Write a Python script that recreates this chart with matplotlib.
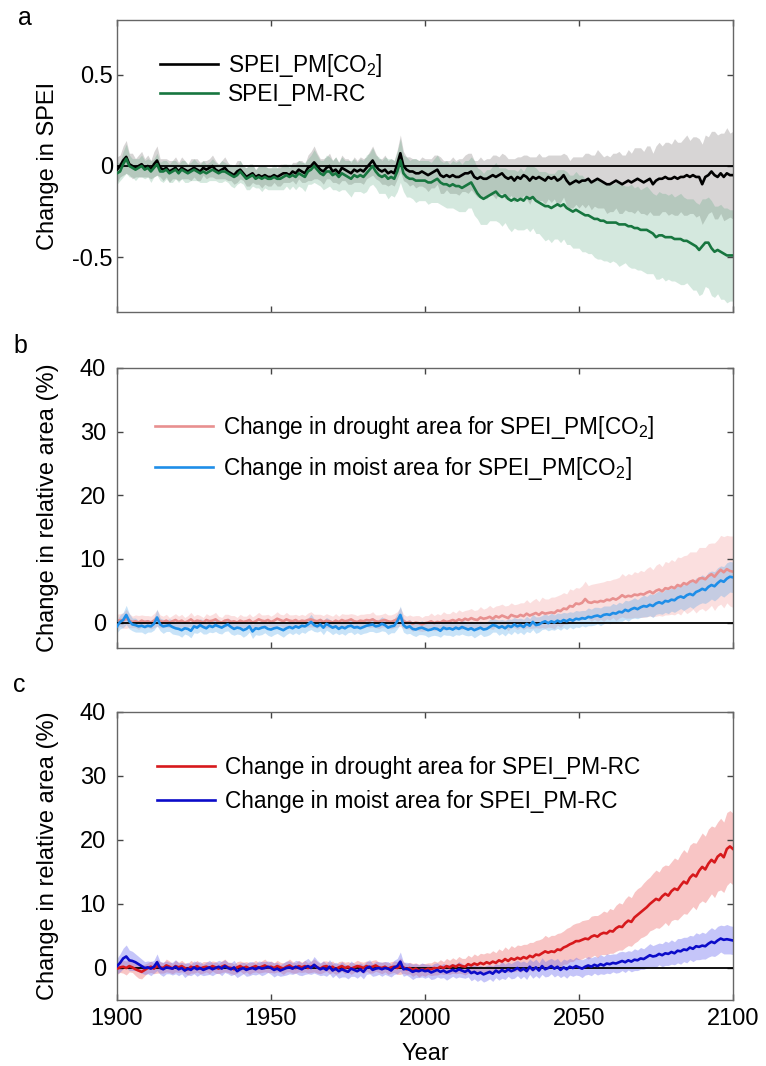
import numpy as np
import matplotlib
matplotlib.use('Agg')
import matplotlib.pyplot as plt

plt.rcParams['font.family'] = 'Liberation Sans'
plt.rcParams['mathtext.fontset'] = 'custom'
plt.rcParams['mathtext.rm'] = 'Liberation Sans'
plt.rcParams['mathtext.it'] = 'Liberation Sans:italic'
plt.rcParams['axes.unicode_minus'] = False

# anos 1900-2100
years = np.arange(1900, 2101)

# painel a: variacao no SPEI (media e meia-largura da faixa)
spei_co2 = [
    -0.02, 0.00, 0.03, 0.05, 0.01, 0.00, -0.01, 0.00, 0.01, -0.01,
    0.00, -0.02, 0.01, 0.03, -0.01, -0.02, -0.01, -0.03, -0.02, -0.01,
    -0.03, -0.01, -0.02, -0.03, -0.02, -0.01, -0.02, -0.03, -0.01, -0.02,
    -0.01, 0.00, -0.02, -0.03, -0.02, -0.01, -0.03, -0.04, -0.05, -0.03,
    -0.02, -0.04, -0.06, -0.05, -0.04, -0.06, -0.05, -0.06, -0.05, -0.06,
    -0.06, -0.05, -0.06, -0.05, -0.04, -0.04, -0.05, -0.03, -0.04, -0.02,
    -0.03, -0.04, -0.01, 0.00, 0.02, 0.00, -0.02, -0.03, -0.01, 0.00,
    -0.03, -0.02, -0.04, -0.01, -0.02, -0.03, -0.04, -0.02, -0.03, -0.02,
    -0.03, -0.01, 0.01, 0.03, 0.00, -0.02, -0.03, -0.02, -0.04, -0.03,
    -0.04, 0.01, 0.07, 0.00, -0.02, -0.03, -0.03, -0.04, -0.04, -0.03,
    -0.04, -0.05, -0.04, -0.03, -0.02, -0.05, -0.06, -0.05, -0.06, -0.05,
    -0.06, -0.06, -0.05, -0.04, -0.04, -0.03, -0.06, -0.07, -0.06, -0.07,
    -0.07, -0.06, -0.05, -0.06, -0.05, -0.04, -0.06, -0.07, -0.06, -0.08,
    -0.06, -0.07, -0.05, -0.06, -0.08, -0.06, -0.07, -0.06, -0.07, -0.08,
    -0.06, -0.07, -0.06, -0.08, -0.07, -0.05, -0.08, -0.10, -0.09, -0.08,
    -0.09, -0.08, -0.08, -0.07, -0.09, -0.08, -0.07, -0.08, -0.09, -0.10,
    -0.10, -0.09, -0.08, -0.09, -0.10, -0.09, -0.08, -0.09, -0.08, -0.07,
    -0.08, -0.09, -0.08, -0.07, -0.10, -0.08, -0.07, -0.07, -0.06, -0.07,
    -0.07, -0.06, -0.07, -0.06, -0.06, -0.05, -0.06, -0.05, -0.06, -0.06,
    -0.10, -0.06, -0.05, -0.03, -0.05, -0.06, -0.04, -0.06, -0.04, -0.05,
    -0.05]
spei_rc = [
    -0.04, -0.03, 0.01, 0.04, 0.00, -0.01, -0.02, -0.01, 0.00, -0.02,
    -0.01, -0.03, -0.01, 0.01, -0.03, -0.03, -0.02, -0.04, -0.03, -0.02,
    -0.04, -0.02, -0.03, -0.04, -0.03, -0.02, -0.03, -0.04, -0.03, -0.04,
    -0.03, -0.02, -0.03, -0.04, -0.03, -0.03, -0.04, -0.05, -0.06, -0.05,
    -0.03, -0.05, -0.07, -0.06, -0.05, -0.07, -0.06, -0.07, -0.06, -0.07,
    -0.07, -0.06, -0.07, -0.07, -0.06, -0.05, -0.06, -0.05, -0.06, -0.04,
    -0.05, -0.06, -0.03, -0.02, 0.00, -0.02, -0.04, -0.05, -0.03, -0.03,
    -0.05, -0.04, -0.06, -0.04, -0.05, -0.06, -0.07, -0.05, -0.06, -0.05,
    -0.06, -0.04, -0.02, 0.00, -0.03, -0.05, -0.06, -0.05, -0.07, -0.06,
    -0.07, -0.03, 0.03, -0.04, -0.06, -0.07, -0.07, -0.08, -0.08, -0.08,
    -0.08, -0.09, -0.09, -0.08, -0.07, -0.09, -0.10, -0.10, -0.11, -0.10,
    -0.11, -0.11, -0.12, -0.11, -0.10, -0.09, -0.12, -0.15, -0.17, -0.18,
    -0.17, -0.16, -0.15, -0.14, -0.16, -0.17, -0.16, -0.18, -0.19, -0.18,
    -0.19, -0.18, -0.19, -0.17, -0.18, -0.17, -0.19, -0.20, -0.21, -0.22,
    -0.22, -0.23, -0.22, -0.21, -0.22, -0.21, -0.23, -0.24, -0.25, -0.24,
    -0.25, -0.26, -0.27, -0.27, -0.28, -0.29, -0.29, -0.30, -0.30, -0.31,
    -0.31, -0.31, -0.31, -0.32, -0.32, -0.32, -0.33, -0.33, -0.34, -0.34,
    -0.35, -0.35, -0.35, -0.36, -0.37, -0.39, -0.38, -0.38, -0.39, -0.39,
    -0.39, -0.40, -0.40, -0.40, -0.41, -0.41, -0.42, -0.43, -0.44, -0.46,
    -0.44, -0.42, -0.42, -0.45, -0.47, -0.46, -0.47, -0.48, -0.49, -0.49,
    -0.49]
spread_co2 = [
    .07, .06, .08, .09, .06, .07, .05, .06, .07, .05,
    .06, .05, .07, .08, .05, .06, .05, .06, .05, .06,
    .05, .06, .05, .04, .06, .05, .06, .05, .04, .05,
    .05, .06, .05, .04, .05, .06, .05, .04, .05, .06,
    .05, .04, .05, .06, .05, .04, .05, .06, .05, .05,
    .05, .04, .05, .06, .05, .05, .04, .05, .06, .05,
    .06, .05, .07, .08, .09, .07, .06, .07, .06, .07,
    .06, .07, .06, .07, .06, .07, .06, .07, .06, .07,
    .07, .06, .07, .08, .07, .06, .07, .08, .07, .07,
    .07, .08, .10, .08, .07, .08, .07, .08, .07, .08,
    .08, .09, .08, .09, .08, .10, .09, .08, .09, .10,
    .09, .10, .09, .10, .11, .10, .09, .10, .11, .10,
    .11, .10, .11, .12, .10, .11, .12, .11, .10, .12,
    .11, .12, .11, .12, .13, .11, .12, .13, .12, .13,
    .12, .13, .12, .14, .13, .12, .14, .13, .14, .13,
    .14, .13, .15, .14, .15, .14, .16, .15, .14, .16,
    .15, .16, .15, .17, .16, .15, .17, .16, .18, .17,
    .18, .17, .19, .18, .17, .19, .20, .18, .19, .20,
    .19, .21, .20, .19, .21, .22, .20, .21, .22, .21,
    .22, .23, .21, .22, .24, .23, .22, .24, .25, .23,
    .24]
spread_rc = [
    .06, .05, .07, .08, .06, .05, .06, .05, .06, .05,
    .05, .06, .05, .06, .05, .06, .05, .05, .06, .05,
    .05, .05, .06, .05, .05, .06, .05, .05, .06, .05,
    .05, .06, .05, .05, .06, .05, .05, .06, .06, .05,
    .06, .05, .06, .07, .06, .05, .06, .07, .06, .06,
    .06, .07, .06, .06, .07, .06, .07, .06, .07, .07,
    .07, .08, .07, .08, .09, .08, .07, .08, .09, .08,
    .08, .09, .08, .09, .08, .09, .10, .09, .08, .09,
    .09, .10, .09, .10, .09, .10, .09, .10, .11, .10,
    .10, .11, .12, .10, .11, .10, .11, .12, .11, .11,
    .11, .12, .11, .12, .13, .12, .12, .13, .12, .13,
    .13, .14, .13, .14, .13, .14, .15, .14, .15, .14,
    .15, .14, .15, .16, .15, .16, .15, .16, .17, .16,
    .16, .17, .16, .17, .18, .17, .18, .17, .18, .19,
    .18, .19, .18, .19, .20, .19, .20, .19, .20, .21,
    .20, .21, .20, .21, .20, .21, .22, .21, .22, .21,
    .22, .21, .22, .23, .22, .21, .22, .23, .22, .23,
    .22, .23, .24, .23, .22, .23, .24, .23, .24, .23,
    .24, .23, .24, .25, .24, .23, .24, .25, .24, .25,
    .26, .24, .25, .26, .25, .24, .26, .25, .26, .25,
    .25]

# painel b: area de seca / umida para SPEI_PM[CO2] (%)
drought_co2 = [
    0.2, 0.4, 0.3, 0.6, 0.3, 0.1, 0.2, 0.0, 0.3, 0.1,
    0.2, 0.0, 0.3, 0.7, 0.2, 0.1, 0.3, 0.0, 0.2, 0.4,
    0.1, 0.3, 0.0, 0.2, 0.5, 0.1, 0.3, 0.2, 0.0, 0.4,
    0.2, 0.3, 0.5, 0.1, 0.0, 0.3, 0.4, 0.1, 0.2, 0.0,
    0.3, 0.1, 0.2, 0.4, 0.0, 0.2, 0.5, 0.3, 0.2, 0.4,
    0.1, 0.3, 0.6, 0.4, 0.2, 0.5, 0.3, 0.2, 0.4, 0.1,
    0.3, 0.2, 0.4, 0.5, 0.3, 0.2, 0.4, 0.1, 0.3, 0.2,
    0.0, 0.3, 0.1, 0.4, 0.2, 0.3, 0.5, 0.2, 0.1, 0.3,
    0.2, 0.4, 0.3, 0.5, 0.2, 0.1, 0.3, 0.4, 0.2, 0.1,
    0.3, 0.5, 0.9, 0.2, 0.0, 0.1, -0.2, 0.0, -0.1, -0.3,
    -0.1, 0.0, 0.2, -0.1, 0.1, 0.0, 0.3, 0.1, 0.2, 0.4,
    0.2, 0.5, 0.3, 0.6, 0.4, 0.7, 0.5, 0.4, 0.8, 0.6,
    0.7, 0.9, 0.6, 1.0, 0.8, 1.1, 0.9, 0.7, 1.2, 1.0,
    0.9, 1.2, 1.0, 1.4, 1.1, 1.3, 1.5, 1.2, 1.6, 1.4,
    1.5, 1.6, 1.5, 1.9, 1.8, 2.2, 2.1, 2.6, 2.5, 3.0,
    2.9, 3.1, 3.7, 3.2, 3.1, 3.3, 3.2, 3.4, 3.3, 3.6,
    3.5, 3.8, 3.6, 3.9, 4.3, 4.0, 4.2, 4.1, 4.4, 4.3,
    4.5, 4.4, 4.7, 4.9, 4.6, 5.0, 5.2, 4.9, 5.4, 5.3,
    5.6, 5.4, 5.9, 5.7, 6.2, 6.0, 6.4, 6.6, 6.3, 6.9,
    7.0, 6.8, 7.3, 7.6, 7.2, 7.8, 8.3, 7.9, 8.4, 8.1,
    8.0]
moist_co2 = [
    -0.6, 0.1, 0.4, 1.2, 0.2, -0.3, -0.4, -0.6, -0.5, -0.7,
    -0.5, -0.6, -0.2, 0.8, -0.3, -0.6, -0.5, -0.4, -0.7, -0.9,
    -1.0, -1.2, -0.9, -1.0, -1.3, -0.6, -0.8, -0.4, -0.7, -0.9,
    -0.5, -0.7, -0.4, -0.6, -0.8, -0.5, -0.3, -0.7, -1.0, -0.8,
    -0.9, -1.2, -1.0, -0.6, -1.4, -0.9, -1.0, -0.8, -0.7, -1.0,
    -1.1, -0.9, -0.8, -1.0, -1.2, -0.9, -0.7, -0.9, -0.6, -0.8,
    -0.5, -0.6, -0.3, 0.1, -0.4, -0.6, -0.3, -0.8, -0.2, -0.5,
    -0.8, -0.6, -1.0, -0.7, -0.9, -0.6, -0.5, -0.8, -0.7, -0.9,
    -0.7, -0.5, -0.4, -0.3, -0.6, -0.5, -0.2, -0.4, -0.8, -0.6,
    -0.5, 0.2, 1.2, -0.4, -0.8, -0.6, -1.0, -1.1, -0.9, -0.8,
    -1.0, -1.2, -1.1, -0.9, -1.0, -1.3, -0.8, -1.0, -0.9, -1.1,
    -0.8, -1.0, -0.7, -0.9, -1.1, -0.9, -1.2, -1.0, -0.8, -1.1,
    -1.0, -0.7, -0.4, -0.5, -0.8, -0.6, -0.9, -0.5, -0.7, -0.3,
    -0.6, -0.4, -0.7, -0.2, -0.5, 0.1, -0.4, -0.3, 0.0, 0.2,
    -0.1, 0.2, 0.0, 0.3, 0.1, 0.4, 0.2, 0.5, 0.3, 0.6,
    0.5, 0.7, 0.6, 0.9, 0.8, 1.0, 1.1, 0.9, 1.2, 1.3,
    1.2, 1.5, 1.4, 1.7, 1.6, 2.0, 1.8, 2.1, 2.3, 2.1,
    2.4, 2.6, 2.5, 2.8, 2.6, 3.0, 3.2, 3.0, 3.4, 3.3,
    3.6, 3.5, 3.9, 4.1, 3.9, 4.3, 4.5, 4.3, 4.8, 5.0,
    5.3, 5.1, 5.6, 5.9, 5.7, 6.2, 6.6, 6.4, 6.9, 7.2,
    7.1]
spread_dro_co2 = [
    1.1, 1.0, 1.2, 1.5, 1.1, 0.9, 1.0, 1.1, 0.9, 1.0,
    0.9, 1.0, 1.1, 1.3, 1.0, 0.9, 1.0, 0.8, 0.9, 1.0,
    0.9, 1.0, 0.8, 0.9, 1.1, 0.9, 1.0, 0.9, 0.8, 1.0,
    0.9, 1.0, 1.1, 0.9, 0.8, 1.0, 0.9, 1.0, 0.9, 0.8,
    1.0, 0.9, 0.8, 1.0, 0.9, 1.0, 1.1, 0.9, 1.0, 0.9,
    0.9, 1.0, 1.1, 0.9, 1.0, 1.1, 0.9, 1.0, 0.9, 1.0,
    1.0, 0.9, 1.1, 1.2, 1.0, 1.1, 0.9, 1.0, 1.1, 1.0,
    1.0, 1.1, 0.9, 1.0, 1.1, 1.0, 0.9, 1.1, 1.0, 1.0,
    1.1, 1.0, 1.1, 1.2, 1.0, 1.1, 1.0, 1.1, 1.0, 1.1,
    1.1, 1.2, 1.5, 1.1, 1.0, 1.1, 1.2, 1.1, 1.2, 1.1,
    1.2, 1.1, 1.3, 1.2, 1.3, 1.2, 1.4, 1.3, 1.2, 1.4,
    1.3, 1.5, 1.4, 1.3, 1.6, 1.5, 1.4, 1.6, 1.7, 1.5,
    1.6, 1.8, 1.7, 1.6, 1.9, 1.8, 1.7, 2.0, 1.9, 1.8,
    2.0, 1.9, 2.1, 2.2, 2.0, 2.2, 2.3, 2.1, 2.4, 2.3,
    2.2, 2.4, 2.5, 2.3, 2.6, 2.5, 2.4, 2.7, 2.6, 2.5,
    2.5, 2.7, 2.8, 2.6, 2.9, 2.8, 3.0, 2.9, 3.1, 3.0,
    3.1, 3.0, 3.3, 3.2, 3.4, 3.3, 3.5, 3.4, 3.6, 3.5,
    3.7, 3.6, 3.8, 3.9, 3.7, 4.0, 4.1, 3.9, 4.2, 4.1,
    4.3, 4.2, 4.4, 4.5, 4.3, 4.6, 4.7, 4.5, 4.8, 4.9,
    4.8, 5.0, 5.1, 4.9, 5.3, 5.2, 5.4, 5.6, 5.3, 5.5,
    5.6]
spread_moi_co2 = [
    1.0, 1.1, 1.2, 1.5, 1.2, 1.0, 1.1, 0.9, 1.0, 1.1,
    1.0, 0.9, 1.0, 1.3, 1.0, 1.1, 0.9, 1.0, 1.1, 1.0,
    1.0, 1.1, 0.9, 1.0, 1.1, 1.0, 0.9, 1.0, 1.1, 0.9,
    1.0, 0.9, 1.0, 1.1, 1.0, 0.9, 1.0, 1.1, 1.0, 1.0,
    1.0, 1.1, 1.0, 0.9, 1.1, 1.0, 1.0, 1.1, 0.9, 1.0,
    1.1, 1.0, 0.9, 1.0, 1.1, 1.0, 0.9, 1.0, 1.0, 1.1,
    1.0, 1.1, 1.0, 1.2, 1.0, 0.9, 1.0, 1.1, 1.0, 1.0,
    1.1, 1.0, 0.9, 1.0, 1.1, 1.0, 1.0, 1.1, 0.9, 1.0,
    1.0, 1.1, 1.0, 1.1, 1.0, 1.0, 1.1, 1.0, 1.1, 1.0,
    1.1, 1.2, 1.4, 1.1, 1.0, 1.1, 1.0, 1.1, 1.0, 1.1,
    1.0, 1.1, 1.0, 1.1, 1.1, 1.0, 1.1, 1.0, 1.1, 1.1,
    1.1, 1.0, 1.1, 1.1, 1.0, 1.1, 1.2, 1.1, 1.0, 1.1,
    1.1, 1.2, 1.1, 1.0, 1.2, 1.1, 1.2, 1.1, 1.2, 1.1,
    1.2, 1.1, 1.2, 1.2, 1.1, 1.2, 1.3, 1.2, 1.1, 1.2,
    1.2, 1.3, 1.2, 1.2, 1.3, 1.2, 1.3, 1.2, 1.3, 1.3,
    1.3, 1.2, 1.3, 1.4, 1.3, 1.4, 1.3, 1.4, 1.4, 1.3,
    1.4, 1.5, 1.4, 1.5, 1.4, 1.5, 1.6, 1.5, 1.6, 1.5,
    1.6, 1.7, 1.6, 1.7, 1.8, 1.7, 1.8, 1.7, 1.8, 1.9,
    1.8, 1.9, 2.0, 1.9, 2.0, 2.1, 2.0, 2.1, 2.2, 2.1,
    2.2, 2.1, 2.3, 2.2, 2.3, 2.4, 2.3, 2.4, 2.5, 2.4,
    2.4]

# painel c: area de seca / umida para SPEI_PM-RC (%)
drought_rc = [
    -0.1, 0.1, 0.2, 0.0, 0.3, 0.1, -0.2, -0.4, -0.6, -0.3,
    0.0, 0.2, -0.1, 0.3, 0.1, 0.0, 0.4, 0.2, -0.1, 0.3,
    0.1, 0.3, 0.0, -0.2, 0.2, 0.0, 0.3, -0.1, 0.1, 0.2,
    0.0, 0.3, 0.1, -0.1, 0.2, 0.4, 0.1, 0.0, -0.2, 0.1,
    0.3, 0.0, 0.2, -0.1, 0.1, 0.3, 0.0, 0.2, 0.4, 0.1,
    0.2, 0.0, 0.3, 0.1, -0.1, 0.2, 0.4, 0.1, 0.0, 0.3,
    0.1, 0.3, 0.0, 0.2, 0.4, 0.1, -0.1, 0.2, 0.3, 0.0,
    0.2, -0.2, 0.1, 0.3, 0.0, 0.2, -0.1, 0.1, 0.3, 0.2,
    0.0, 0.3, 0.1, 0.2, 0.4, 0.1, 0.0, 0.2, -0.1, 0.1,
    0.2, 0.0, 0.3, 0.1, -0.2, 0.0, -0.3, -0.1, -0.4, -0.2,
    -0.3, -0.1, -0.2, 0.0, -0.1, 0.2, 0.0, 0.3, 0.1, 0.4,
    0.2, 0.5, 0.3, 0.2, 0.6, 0.4, 0.7, 0.5, 0.8, 0.6,
    0.9, 0.7, 1.0, 0.8, 1.2, 1.0, 1.4, 1.1, 1.5, 1.3,
    1.6, 1.4, 1.7, 1.5, 1.9, 1.7, 2.1, 2.0, 2.3, 2.6,
    2.4, 2.6, 2.5, 2.9, 2.8, 3.2, 3.4, 3.7, 3.9, 4.2,
    4.2, 4.4, 4.6, 4.5, 4.9, 5.1, 4.9, 5.3, 5.5, 5.4,
    5.8, 5.7, 6.2, 6.5, 6.4, 7.0, 7.4, 7.2, 7.9, 8.3,
    8.7, 9.1, 9.5, 10.0, 10.4, 10.8, 10.6, 11.2, 11.6, 11.3,
    12.0, 12.4, 12.2, 12.9, 13.5, 13.2, 14.1, 14.6, 14.3, 15.2,
    15.8, 15.4, 16.3, 16.9, 16.5, 17.4, 17.8, 17.3, 18.6, 19.0,
    18.6]
moist_rc = [
    0.3, 0.8, 1.5, 1.8, 1.2, 1.1, 0.9, 0.6, 0.3, 0.0,
    0.1, -0.1, 0.2, 0.9, 0.0, -0.2, 0.1, 0.0, -0.1, 0.2,
    -0.2, 0.0, -0.4, -0.1, -0.3, 0.1, -0.2, 0.0, -0.3, -0.1,
    0.1, -0.2, 0.0, 0.2, -0.1, 0.3, 0.0, -0.2, 0.1, -0.5,
    -0.2, 0.0, -0.3, -0.1, 0.0, -0.2, 0.1, -0.1, 0.0, 0.2,
    0.0, -0.3, -0.1, -0.4, -0.2, 0.0, 0.1, -0.1, 0.2, 0.0,
    -0.2, 0.1, 0.3, 0.0, 0.5, 0.1, -0.2, 0.0, -0.3, 0.2,
    -0.4, -0.1, -0.5, -0.2, -0.4, -0.6, -0.1, -0.3, -0.5, -0.2,
    -0.6, 0.0, 0.2, -0.3, -0.1, 0.0, -0.2, 0.0, -0.1, -0.4,
    0.1, 0.3, 1.0, -0.2, -0.1, -0.3, -0.6, -0.4, -0.5, -0.3,
    -0.5, -0.4, -0.7, -0.5, -0.3, -0.6, -0.4, -0.7, -0.5, -0.3,
    -0.5, -0.2, -0.4, -0.6, -0.3, -0.8, -0.6, -0.9, -0.7, -1.0,
    -0.8, -0.6, -0.9, -0.4, -0.7, -0.3, -0.6, -0.2, -0.5, -0.3,
    0.0, -0.4, -0.1, -0.5, 0.2, -0.3, 0.1, -0.4, 0.3, -0.2,
    0.0, 0.3, -0.1, 0.2, -0.3, 0.1, -0.2, 0.2, 0.0, 0.3,
    0.1, -0.1, 0.2, 0.4, 0.2, 0.5, 0.3, 0.6, 0.4, 0.7,
    0.6, 0.8, 0.7, 0.9, 1.1, 0.9, 1.2, 1.0, 1.3, 1.2,
    1.5, 1.4, 1.7, 2.0, 1.8, 1.9, 2.2, 2.0, 2.3, 2.2,
    2.5, 2.3, 2.7, 2.6, 2.9, 2.8, 3.2, 3.0, 3.4, 3.3,
    3.5, 3.4, 3.8, 4.1, 3.9, 4.3, 4.6, 4.4, 4.5, 4.4,
    4.3]
spread_dro_rc = [
    0.9, 0.8, 1.0, 1.1, 0.9, 0.8, 1.0, 1.2, 1.1, 0.9,
    0.8, 0.9, 0.8, 1.1, 0.9, 0.8, 1.0, 0.9, 0.8, 0.9,
    0.8, 0.9, 0.8, 0.9, 1.0, 0.8, 0.9, 0.8, 0.9, 0.8,
    0.9, 0.8, 0.9, 0.8, 0.9, 1.0, 0.8, 0.9, 0.8, 0.9,
    0.8, 0.9, 0.8, 0.9, 0.8, 0.9, 0.8, 0.9, 1.0, 0.8,
    0.9, 0.8, 0.9, 0.8, 0.9, 0.8, 1.0, 0.9, 0.8, 0.9,
    0.8, 0.9, 0.8, 0.9, 1.0, 0.9, 0.8, 0.9, 0.8, 0.9,
    0.9, 0.8, 0.9, 0.8, 0.9, 0.8, 0.9, 0.8, 0.9, 0.8,
    0.9, 0.8, 0.9, 1.0, 0.9, 0.8, 0.9, 0.8, 0.9, 0.9,
    0.9, 1.0, 1.3, 0.9, 0.8, 0.9, 1.0, 0.9, 1.0, 0.9,
    1.0, 0.9, 1.0, 1.1, 1.0, 1.1, 1.0, 1.2, 1.1, 1.2,
    1.1, 1.3, 1.2, 1.3, 1.4, 1.3, 1.5, 1.4, 1.5, 1.6,
    1.5, 1.6, 1.7, 1.6, 1.8, 1.7, 1.9, 1.8, 2.0, 1.9,
    2.0, 2.1, 2.0, 2.2, 2.1, 2.3, 2.2, 2.4, 2.3, 2.5,
    2.4, 2.5, 2.6, 2.5, 2.7, 2.6, 2.8, 2.7, 2.9, 2.8,
    2.9, 3.0, 2.9, 3.1, 3.2, 3.1, 3.3, 3.2, 3.4, 3.3,
    3.5, 3.4, 3.6, 3.7, 3.6, 3.8, 3.9, 3.8, 4.0, 4.1,
    4.0, 4.2, 4.3, 4.2, 4.4, 4.5, 4.4, 4.6, 4.5, 4.7,
    4.6, 4.8, 4.7, 4.9, 5.0, 4.8, 5.1, 5.0, 5.2, 5.1,
    5.3, 5.2, 5.4, 5.3, 5.5, 5.4, 5.6, 5.5, 5.7, 5.6,
    5.6]
spread_moi_rc = [
    1.2, 1.4, 1.6, 1.8, 1.6, 1.5, 1.3, 1.2, 1.1, 1.0,
    1.0, 1.1, 1.0, 1.3, 1.0, 1.1, 1.0, 0.9, 1.0, 1.1,
    1.0, 0.9, 1.1, 1.0, 0.9, 1.0, 1.1, 1.0, 0.9, 1.0,
    1.1, 1.0, 0.9, 1.0, 1.1, 1.0, 0.9, 1.0, 1.1, 1.0,
    1.0, 0.9, 1.0, 1.1, 1.0, 0.9, 1.0, 1.1, 1.0, 0.9,
    1.0, 1.1, 1.0, 0.9, 1.0, 1.1, 1.0, 0.9, 1.0, 1.1,
    1.0, 1.1, 1.2, 1.0, 1.3, 1.1, 1.0, 1.1, 1.0, 1.1,
    1.1, 1.0, 1.1, 1.2, 1.0, 1.1, 1.2, 1.0, 1.1, 1.0,
    1.1, 1.0, 1.1, 1.0, 1.1, 1.0, 1.1, 1.0, 1.1, 1.0,
    1.1, 1.2, 1.5, 1.1, 1.0, 1.1, 1.2, 1.1, 1.0, 1.1,
    1.1, 1.0, 1.1, 1.2, 1.1, 1.0, 1.1, 1.2, 1.1, 1.0,
    1.1, 1.2, 1.1, 1.0, 1.1, 1.2, 1.1, 1.2, 1.1, 1.2,
    1.2, 1.1, 1.2, 1.1, 1.2, 1.3, 1.2, 1.1, 1.2, 1.3,
    1.2, 1.3, 1.2, 1.3, 1.2, 1.3, 1.3, 1.2, 1.3, 1.2,
    1.3, 1.2, 1.3, 1.3, 1.2, 1.3, 1.4, 1.3, 1.3, 1.4,
    1.3, 1.4, 1.3, 1.4, 1.4, 1.3, 1.4, 1.5, 1.4, 1.5,
    1.5, 1.4, 1.5, 1.6, 1.5, 1.6, 1.5, 1.6, 1.7, 1.6,
    1.7, 1.6, 1.7, 1.8, 1.7, 1.8, 1.7, 1.8, 1.9, 1.8,
    1.9, 1.8, 1.9, 2.0, 1.9, 2.0, 1.9, 2.0, 2.1, 2.0,
    2.1, 2.0, 2.1, 2.2, 2.1, 2.2, 2.1, 2.2, 2.3, 2.2,
    2.2]

series = [spei_co2, spei_rc, spread_co2, spread_rc, drought_co2, moist_co2,
          spread_dro_co2, spread_moi_co2, drought_rc, moist_rc,
          spread_dro_rc, spread_moi_rc]
for s in series:
    if len(s) != len(years):
        raise ValueError('tamanho errado: %d' % len(s))


def faixa(ax, media, spread, cor, alfa):
    m = np.array(media)
    d = np.array(spread)
    ax.fill_between(years, m - d, m + d, color=cor, alpha=alfa, lw=0, zorder=1)


def estilo(ax, pad_y):
    ax.set_xlim(1900, 2100)
    ax.set_xticks([1900, 1950, 2000, 2050, 2100])
    ax.tick_params(direction='in', top=True, right=True, length=4.5, width=1,
                   color='#444444', labelsize=17)
    ax.tick_params(axis='y', pad=pad_y)
    ax.tick_params(axis='x', pad=6)
    for s in ax.spines.values():
        s.set_color('#666666')
        s.set_linewidth(1)
    ax.axhline(0, color='k', lw=1.3, zorder=3)


def legenda(ax, x, y, esp):
    ax.legend(loc='upper left', bbox_to_anchor=(x, y), frameon=False,
              fontsize=16.3, handlelength=2.55, handletextpad=0.45,
              labelspacing=esp, borderpad=0, borderaxespad=0)


fig = plt.figure(figsize=(7.66, 10.66), dpi=100)


def pos(top, bottom):
    return [117 / 766, 1 - bottom / 1066, 616 / 766, (bottom - top) / 1066]


ax_a = fig.add_axes(pos(20, 312))
ax_b = fig.add_axes(pos(368, 648))
ax_c = fig.add_axes(pos(712, 1000))

# painel a
faixa(ax_a, spei_co2, spread_co2, '#8c8585', 0.34)
faixa(ax_a, spei_rc, spread_rc, '#3d9a6a', 0.22)
ax_a.plot(years, spei_co2, color='black', lw=1.9, zorder=4,
          label=r'SPEI_PM[CO$_\mathrm{2}$]')
ax_a.plot(years, spei_rc, color='#17763f', lw=1.9, zorder=4, label='SPEI_PM-RC')
estilo(ax_a, 3)
ax_a.set_ylim(-0.8, 0.8)
ax_a.set_yticks([-0.5, 0, 0.5])
ax_a.set_yticklabels(['-0.5', '0', '0.5'])
ax_a.set_xticklabels([])
legenda(ax_a, 0.070, 0.89, 0.18)

# painel b
faixa(ax_b, drought_co2, spread_dro_co2, '#f4a0a0', 0.33)
ax_b.plot(years, drought_co2, color='#e8908f', lw=1.9, zorder=2,
          label=r'Change in drought area for SPEI_PM[CO$_\mathrm{2}$]')
faixa(ax_b, moist_co2, spread_moi_co2, '#4aa3ea', 0.3)
ax_b.plot(years, moist_co2, color='#1f8ee8', lw=1.9, zorder=4,
          label=r'Change in moist area for SPEI_PM[CO$_\mathrm{2}$]')
estilo(ax_b, 8)
ax_b.set_ylim(-4, 40)
ax_b.set_yticks([0, 10, 20, 30, 40])
ax_b.set_xticklabels([])
legenda(ax_b, 0.062, 0.835, 0.62)

# painel c
faixa(ax_c, drought_rc, spread_dro_rc, '#f08080', 0.45)
faixa(ax_c, moist_rc, spread_moi_rc, '#7070f0', 0.4)
ax_c.plot(years, drought_rc, color='#d7191c', lw=1.9, zorder=4,
          label='Change in drought area for SPEI_PM-RC')
ax_c.plot(years, moist_rc, color='#0b0bc9', lw=1.9, zorder=4,
          label='Change in moist area for SPEI_PM-RC')
estilo(ax_c, 8)
ax_c.set_ylim(-5, 40)
ax_c.set_yticks([0, 10, 20, 30, 40])
legenda(ax_c, 0.065, 0.846, 0.48)

# rotulos
fig.text(48 / 766, 1 - 166 / 1066, 'Change in SPEI', rotation=90,
         ha='center', va='center', fontsize=17)
fig.text(48 / 766, 1 - 508 / 1066, 'Change in relative area (%)', rotation=90,
         ha='center', va='center', fontsize=17)
fig.text(48 / 766, 1 - 856 / 1066, 'Change in relative area (%)', rotation=90,
         ha='center', va='center', fontsize=17)
fig.text(425 / 766, 1 - 1060 / 1066, 'Year', ha='center', va='baseline', fontsize=17)
fig.text(25 / 766, 1 - 25 / 1066, 'a', ha='center', va='baseline', fontsize=18)
fig.text(20 / 766, 1 - 353 / 1066, 'b', ha='center', va='baseline', fontsize=18)
fig.text(19 / 766, 1 - 692 / 1066, 'c', ha='center', va='baseline', fontsize=18)

fig.savefig('out.png', dpi=100)
